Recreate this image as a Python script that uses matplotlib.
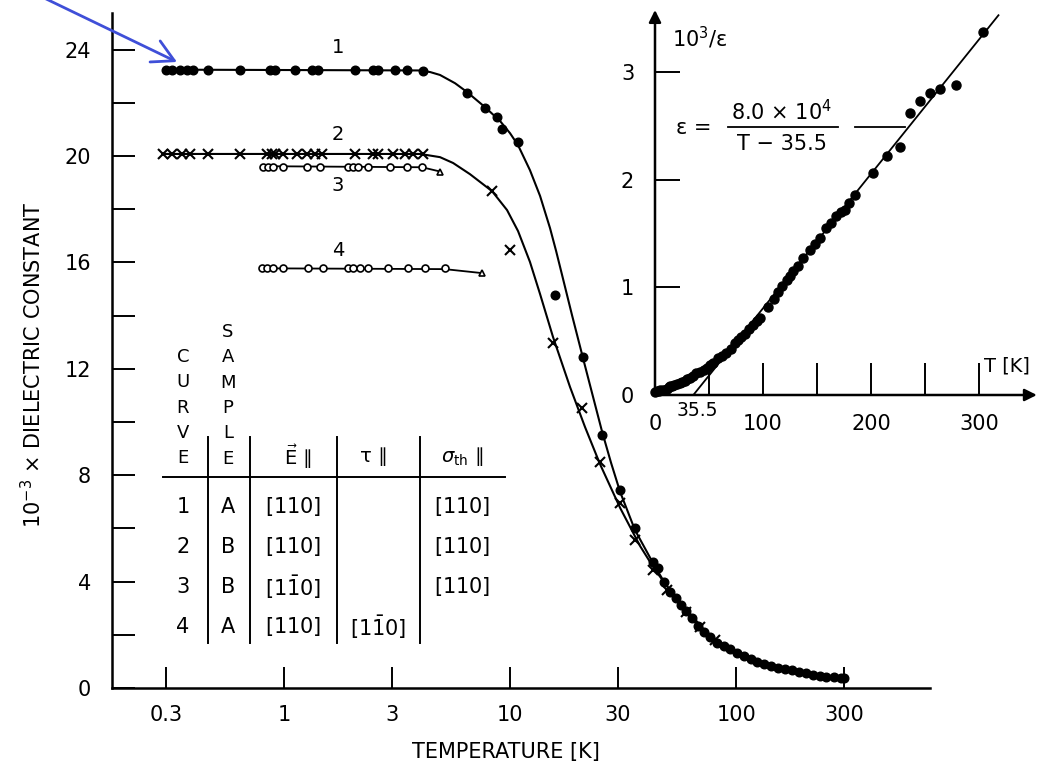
import matplotlib
matplotlib.use("Agg")
import matplotlib.pyplot as plt
from matplotlib.lines import Line2D
from matplotlib.ticker import NullLocator, FixedLocator

plt.rcParams['font.family'] = ['DejaVu Sans']
plt.rcParams['mathtext.fontset'] = 'dejavusans'

# ---------------- main panel data: 10^-3 x dielectric constant vs T [K] ----------------
# curve 1 (sample A, E || [110], sigma || [110]) measured points
c1_T = [0.3, 0.32, 0.347, 0.372, 0.396, 0.461, 0.638, 0.867, 0.913, 1.12, 1.33, 1.41,
        2.06, 2.48, 2.61, 3.10, 3.50, 4.12,
        6.45, 7.75, 8.75, 9.2, 10.85, 15.8, 21.0, 25.5, 30.7, 35.7, 42.9,
        45, 48, 51, 54, 57, 60, 64, 68, 72, 77, 82, 88, 94, 101, 108, 116, 124,
        133, 143, 153, 164, 176, 189, 203, 218, 234, 251, 270, 290, 300]
c1_eps = [23.25, 23.25, 23.25, 23.25, 23.25, 23.25, 23.25, 23.25, 23.25, 23.25, 23.25, 23.25,
          23.25, 23.25, 23.25, 23.25, 23.25, 23.2,
          22.37, 21.80, 21.47, 21.0, 20.53, 14.77, 12.45, 9.51, 7.44, 6.00, 4.75,
          4.50, 4.00, 3.62, 3.40, 3.12, 2.90, 2.62, 2.35, 2.12, 1.90, 1.70, 1.57, 1.45, 1.33,
          1.20, 1.08, 0.97, 0.89, 0.82, 0.77, 0.72, 0.66, 0.61, 0.56, 0.50, 0.46, 0.42,
          0.40, 0.37, 0.36]
# drawn curve through curve 1
c1_line_T = [0.3, 4.0, 4.43, 4.90, 5.71, 6.45, 7.75, 9.03, 10.0, 10.85, 12.25, 13.58, 15.03,
             15.99, 16.99, 18.80, 21.02, 23.06, 25.5, 28.0, 30.7, 35.7, 42.9, 47.5, 53.7,
             59.5, 69.3, 79.1, 89.5, 101, 119, 137, 161, 192, 219, 253, 295]
c1_line_eps = [23.25, 23.22, 23.16, 23.05, 22.74, 22.41, 21.84, 21.32, 20.86, 20.41, 19.47,
               18.50, 17.29, 16.43, 15.53, 14.02, 12.41, 11.09, 9.66, 8.46, 7.37, 5.94,
               4.70, 4.06, 3.38, 2.89, 2.26, 1.80, 1.54, 1.34, 1.05, 0.86, 0.75, 0.60, 0.49,
               0.41, 0.38]

# curve 2 (sample B, E || [110], sigma || [110])
c2_T = [0.291, 0.319, 0.354, 0.384, 0.461, 0.639, 0.841, 0.885, 0.912, 0.99, 1.14, 1.26,
        1.37, 1.47, 2.06, 2.48, 2.61, 3.03, 3.43, 3.72, 4.12,
        8.33, 10.0, 15.5, 20.8, 25.0, 30.7, 35.7, 42.9, 49.5, 60.3, 69.3, 80.8]
c2_eps = [20.08] * 21 + [18.68, 16.47, 12.97, 10.53, 8.50, 6.95, 5.56, 4.44, 3.68, 2.85,
                         2.28, 1.80]
c2_line_T = [0.291, 4.0, 4.90, 5.60, 6.65, 8.33, 9.70, 10.85, 12.25, 13.58, 15.49, 18.42,
             21.47, 25.0, 30.7, 37.6, 43.8, 51.0, 60.7, 72.9, 89.4]
c2_line_eps = [20.08, 20.08, 19.96, 19.74, 19.32, 18.68, 17.97, 17.18, 16.02, 14.81, 13.20,
               11.32, 9.81, 8.42, 6.77, 5.34, 4.44, 3.68, 2.92, 2.15, 1.56]

# curve 3 (sample B, E || [1-10], sigma || [110])
c3_T = [0.807, 0.849, 0.894, 0.99, 1.26, 1.44, 1.92, 2.02, 2.12, 2.35, 2.94, 3.50, 4.08]
c3_eps = [19.6] * 13
c3_end = (4.90, 19.42)
c3_line_T = [0.807, 4.08, 4.90]
c3_line_eps = [19.62, 19.58, 19.42]

# curve 4 (sample A, E || [110], tau || [1-10])
c4_T = [0.799, 0.841, 0.894, 0.99, 1.28, 1.49, 1.92, 2.02, 2.17, 2.35, 2.88, 3.53, 4.19, 5.14]
c4_eps = [15.78] * 14
c4_end = (7.52, 15.6)
c4_line_T = [0.799, 5.14, 7.52]
c4_line_eps = [15.78, 15.75, 15.6]

x_ticks = [0.3, 1, 3, 10, 30, 100, 300]
x_ticklabels = ['0.3', '1', '3', '10', '30', '100', '300']
y_ticks = [0, 4, 8, 12, 16, 20, 24]

# ---------------- inset data: 10^3 / eps vs T ----------------
inv_T = [0, 2, 4, 5, 7, 9, 11, 13, 14, 16, 18, 20, 23, 25, 28, 30, 32, 35, 38, 42, 45, 48,
         51, 54, 58, 62, 66, 70, 74, 77, 80, 83, 87, 91, 94, 97, 105, 110, 114, 118, 122,
         125, 128, 132, 137, 143.5, 148, 153, 158, 163, 168, 172, 176, 180, 185, 202,
         214.5, 227, 236, 245, 254.6, 264, 279, 304]
inv_eps = [0.03, 0.04, 0.04, 0.05, 0.05, 0.05, 0.06, 0.07, 0.08, 0.08, 0.09, 0.10, 0.11,
           0.12, 0.13, 0.15, 0.16, 0.18, 0.20, 0.21, 0.23, 0.25, 0.28, 0.30, 0.34, 0.36,
           0.39, 0.43, 0.48, 0.51, 0.54, 0.57, 0.61, 0.65, 0.69, 0.72, 0.82, 0.89, 0.96,
           1.01, 1.07, 1.11, 1.15, 1.20, 1.27, 1.35, 1.40, 1.46, 1.55, 1.60, 1.66, 1.70,
           1.72, 1.79, 1.86, 2.06, 2.22, 2.31, 2.62, 2.73, 2.81, 2.85, 2.88, 3.38]
# Curie-Weiss fit: eps = C / (T - T0)
C_fit = 8.0e4
T0_fit = 35.5
fit_T = [T0_fit, 318.0]

W, H = 1038, 772
fig = plt.figure(figsize=(W / 100, H / 100), dpi=100)


def box(x0, y0, x1, y1):
    return [x0 / W, 1 - y1 / H, (x1 - x0) / W, (y1 - y0) / H]


def fx(x):
    return x / W


def fy(y):
    return 1 - y / H


# ---------------- main axes ----------------
ax = fig.add_axes(box(112, 13, 930, 688))
ax.set_xscale('log')
ax.set_xlim(0.1734, 721)
ax.set_ylim(0, 25.38)
for s in ['top', 'right']:
    ax.spines[s].set_visible(False)
for s in ['left', 'bottom']:
    ax.spines[s].set_linewidth(1.8)

ax.set_xticks(x_ticks)
ax.set_xticklabels(x_ticklabels)
ax.xaxis.set_minor_locator(NullLocator())
ax.tick_params(axis='x', direction='in', length=15, width=1.4, pad=12, labelsize=15)
ax.set_yticks(y_ticks)
ax.yaxis.set_minor_locator(FixedLocator([2, 6, 10, 14, 18, 22]))
ax.tick_params(axis='y', which='both', direction='in', length=16.5, width=1.4, pad=15,
               labelsize=15)

lw = 1.5
ax.plot(c1_line_T, c1_line_eps, color='black', lw=lw, zorder=2)
ax.plot(c2_line_T, c2_line_eps, color='black', lw=lw, zorder=2)
ax.plot(c3_line_T, c3_line_eps, color='black', lw=1.3, zorder=2)
ax.plot(c4_line_T, c4_line_eps, color='black', lw=1.3, zorder=2)

ax.plot(c1_T, c1_eps, 'o', color='black', ms=6.2, zorder=3)
ax.plot(c2_T, c2_eps, 'x', color='black', ms=6.5, mew=1.5, zorder=3)
ax.plot(c3_T, c3_eps, 'o', mfc='white', mec='black', ms=5, mew=1.2, zorder=3)
ax.plot(c4_T, c4_eps, 'o', mfc='white', mec='black', ms=5, mew=1.2, zorder=3)
ax.plot([c3_end[0]], [c3_end[1]], '^', mfc='white', mec='black', ms=5, mew=1.2, zorder=3)
ax.plot([c4_end[0]], [c4_end[1]], '^', mfc='white', mec='black', ms=5, mew=1.2, zorder=3)

for lab, (tx, ty) in zip(['1', '2', '3', '4'],
                         [(1.73, 24.1), (1.73, 20.8), (1.73, 18.9), (1.73, 16.45)]):
    ax.text(tx, ty, lab, fontsize=14, ha='center', va='center')

fig.text(fx(506), fy(752), 'TEMPERATURE [K]', fontsize=15, ha='center', va='center')
fig.text(fx(33), fy(365), r'$10^{-3}$ × DIELECTRIC CONSTANT', fontsize=15,
         rotation=90, ha='center', va='center')

# ---------------- table of curves ----------------
tfs = 13
for i, ch in enumerate('CURVE'):
    fig.text(fx(183), fy(357 + 25.3 * i), ch, fontsize=tfs, ha='center', va='center')
for i, ch in enumerate('SAMPLE'):
    fig.text(fx(228), fy(332 + 25.3 * i), ch, fontsize=tfs, ha='center', va='center')
fig.text(fx(298), fy(457), r'$\vec{\mathsf{E}}$ ∥', fontsize=14, ha='center', va='center')
fig.text(fx(374), fy(456), 'τ ∥', fontsize=14, ha='center', va='center')
fig.text(fx(462), fy(456), r'$\sigma_{\mathsf{th}}$ ∥', fontsize=14, ha='center',
         va='center')

rows_curve = ['1', '2', '3', '4']
rows_sample = ['A', 'B', 'B', 'A']
rows_E = [r'$\mathsf{[110]}$', r'$\mathsf{[110]}$', r'$\mathsf{[1\bar{1}0]}$',
          r'$\mathsf{[110]}$']
rows_tau = ['', '', '', r'$\mathsf{[1\bar{1}0]}$']
rows_sigma = [r'$\mathsf{[110]}$', r'$\mathsf{[110]}$', r'$\mathsf{[110]}$', '']
row_y = [507, 547, 587, 627]
for j, yy in enumerate(row_y):
    for xx, col in zip([183, 228, 293, 378, 462],
                       [rows_curve, rows_sample, rows_E, rows_tau, rows_sigma]):
        if col[j]:
            fig.text(fx(xx), fy(yy), col[j], fontsize=15, ha='center', va='center')

fig.add_artist(Line2D([fx(163), fx(505)], [fy(477), fy(477)], color='black', lw=1.4,
                      transform=fig.transFigure))
for xx in [208, 250, 337, 420]:
    fig.add_artist(Line2D([fx(xx), fx(xx)], [fy(437), fy(643)], color='black', lw=1.4,
                          transform=fig.transFigure))

# ---------------- inset: inverse dielectric constant ----------------
ax2 = fig.add_axes(box(655, 10, 1038, 395))
ax2.set_xlim(0, 354.6)
ax2.set_ylim(0, 3.58)
ax2.patch.set_visible(False)
for s in ax2.spines.values():
    s.set_visible(False)
ax2.annotate('', xy=(0, 1), xytext=(0, 0), xycoords='axes fraction',
             arrowprops=dict(arrowstyle='-|>', color='black', lw=1.8, mutation_scale=18,
                             shrinkA=0, shrinkB=0))
ax2.annotate('', xy=(0.997, 0), xytext=(0, 0), xycoords='axes fraction',
             arrowprops=dict(arrowstyle='-|>', color='black', lw=1.8, mutation_scale=18,
                             shrinkA=0, shrinkB=0))
ax2.set_xticks([0, 50, 100, 150, 200, 250, 300])
ax2.set_xticklabels(['0', '', '100', '', '200', '', '300'])
ax2.tick_params(axis='x', direction='in', length=23, width=1.4, pad=14, labelsize=15)
ax2.set_yticks([0, 1, 2, 3])
ax2.tick_params(axis='y', direction='in', length=18, width=1.4, pad=15, labelsize=15)

fit_inv = [1e3 * (t - T0_fit) / C_fit for t in fit_T]
ax2.plot(fit_T, fit_inv, color='black', lw=1.3, zorder=2)
ax2.plot(inv_T, inv_eps, 'o', color='black', ms=6.5, zorder=3, clip_on=False)

fig.text(fx(697), fy(411), '35.5', fontsize=13.5, ha='center', va='center')
fig.text(fx(672), fy(38), r'$10^3$/ε', fontsize=15, ha='left', va='center')
fig.text(fx(984), fy(366), 'T [K]', fontsize=14, ha='left', va='center')

# formula label with leader to the fit line
fig.text(fx(676), fy(128), 'ε =', fontsize=15, ha='left', va='center')
fig.text(fx(782), fy(112), r'8.0 × 10$^4$', fontsize=15, ha='center', va='center')
fig.text(fx(782), fy(144), 'T − 35.5', fontsize=15, ha='center', va='center')
fig.add_artist(Line2D([fx(728), fx(838)], [fy(127), fy(127)], color='black', lw=1.3,
                      transform=fig.transFigure))
fig.add_artist(Line2D([fx(855), fx(905)], [fy(127), fy(127)], color='black', lw=1.3,
                      transform=fig.transFigure))

# blue pointer to the lowest-temperature point
ax.annotate('', xy=(177, H - 62), xycoords='figure pixels', xytext=(40, H + 4),
            textcoords='figure pixels',
            arrowprops=dict(arrowstyle='->,head_length=0.55,head_width=0.3', color='#3f4fd8',
                            lw=2.0, mutation_scale=28, shrinkA=0, shrinkB=0),
            annotation_clip=False)

fig.savefig('out.png', dpi=100)
